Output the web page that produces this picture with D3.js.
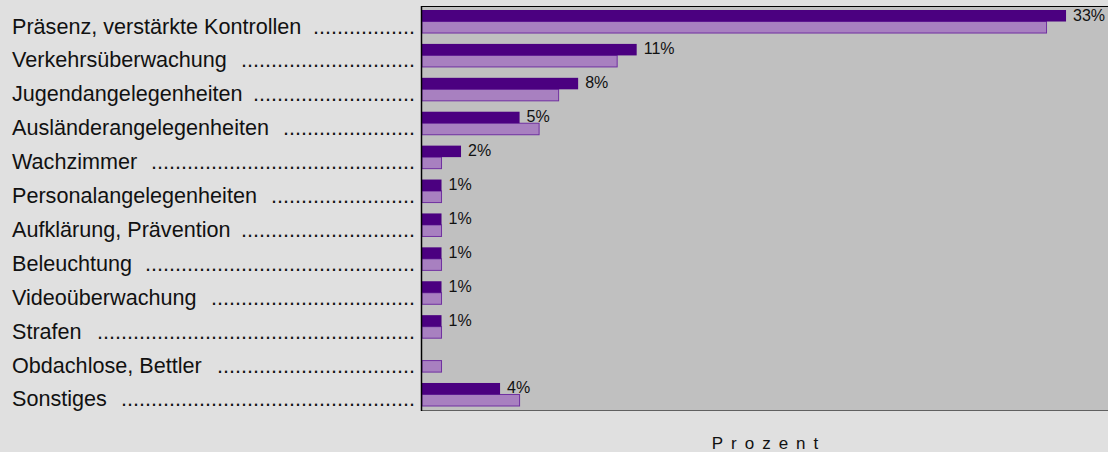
<!DOCTYPE html>
<html><head><meta charset="utf-8">
<script src="https://cdn.jsdelivr.net/npm/d3@7"></script>
<style>
html,body{margin:0;padding:0;background:#e0e0e0;}
svg{display:block;font-family:Arial,"Liberation Sans",sans-serif;}
</style></head>
<body>
<svg id="chart" width="1108" height="452"></svg>
<script>
const categories = ["Präsenz, verstärkte Kontrollen","Verkehrsüberwachung","Jugendangelegenheiten","Ausländerangelegenheiten","Wachzimmer","Personalangelegenheiten","Aufklärung, Prävention","Beleuchtung","Videoüberwachung","Strafen","Obdachlose, Bettler","Sonstiges"];
const series1 = [33,11,8,5,2,1,1,1,1,1,0,4];
const series2 = [32,10,7,6,1,1,1,1,1,1,1,5];
const valueLabels = ["33%","11%","8%","5%","2%","1%","1%","1%","1%","1%","","4%"];
const axisTitle = "Prozent";

const svg = d3.select("#chart");
const W = 1108, H = 452;
const plot = {left:422, right:1108, top:6, bottom:410};

svg.append("rect").attr("x",0).attr("y",0).attr("width",W).attr("height",H).attr("fill","#e0e0e0");
svg.append("rect").attr("x",plot.left).attr("y",plot.top).attr("width",plot.right-plot.left).attr("height",plot.bottom-plot.top).attr("fill","#c0c0c0");

const x = d3.scaleLinear().domain([0,35.15]).range([plot.left, plot.right]);
const y = d3.scaleBand().domain(categories).range([plot.top, plot.bottom]).paddingInner(0.321).paddingOuter(0.118);
const sub = d3.scaleBand().domain(["a","b"]).range([0, y.bandwidth()]);

const rows = svg.append("g").selectAll("g").data(categories).join("g")
  .attr("transform", d => `translate(0,${y(d)})`);

rows.append("rect")
  .attr("x", x(0)).attr("y", sub("b"))
  .attr("width", (d,i) => x(series2[i]) - x(0))
  .attr("height", sub.bandwidth())
  .attr("fill","#a880c0").attr("stroke","#7030a0").attr("stroke-width",1);

rows.append("rect")
  .attr("x", x(0)).attr("y", sub("a"))
  .attr("width", (d,i) => x(series1[i]) - x(0))
  .attr("height", sub.bandwidth())
  .attr("fill","#4b0080");

rows.append("text")
  .attr("x", (d,i) => x(series1[i]) + 7)
  .attr("y", sub("a") + 10.5)
  .attr("font-size", 16).attr("fill","#111")
  .text((d,i) => valueLabels[i]);

// category labels with dot leaders
const labelG = svg.append("g");
const FS = 21.6;
categories.forEach((c,i) => {
  const yy = y(c) + y.bandwidth()/2 + 12;
  const t = labelG.append("text").attr("x",12).attr("y",yy).attr("font-size",FS).attr("fill","#111").text(c);
  const w = t.node().getComputedTextLength();
  const dots = labelG.append("text").attr("x",415).attr("y",yy).attr("font-size",FS).attr("fill","#111").attr("text-anchor","end");
  dots.text(".");
  const dw = dots.node().getComputedTextLength();
  const n = Math.max(1, Math.floor((415 - 12 - w - 1.6*dw) / dw));
  dots.text(".".repeat(n));
});

// axes lines
svg.append("line").attr("x1",plot.left).attr("x2",plot.right).attr("y1",plot.top+0.5).attr("y2",plot.top+0.5).attr("stroke","#000").attr("stroke-width",1.2);
svg.append("line").attr("x1",plot.left).attr("x2",plot.right).attr("y1",plot.bottom+0.5).attr("y2",plot.bottom+0.5).attr("stroke","#606060").attr("stroke-width",1.2);
svg.append("line").attr("x1",plot.left-0.5).attr("x2",plot.left-0.5).attr("y1",plot.top).attr("y2",plot.bottom+1).attr("stroke","#000").attr("stroke-width",1.5);

svg.append("text").attr("x",(plot.left+plot.right)/2 + 4).attr("y",449).attr("text-anchor","middle")
  .attr("font-size",17).attr("letter-spacing","8px").attr("fill","#111").text(axisTitle);
</script>
</body></html>
